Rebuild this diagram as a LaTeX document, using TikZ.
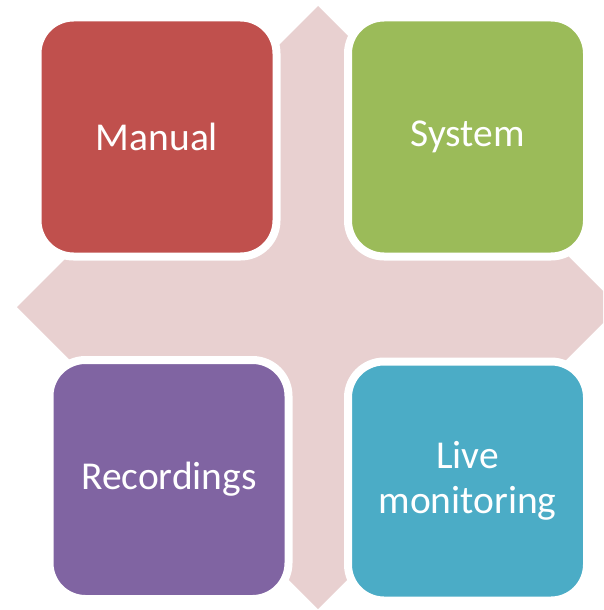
\documentclass[tikz,border=0pt]{standalone}
\usepackage{fontspec}
\setmainfont{Carlito}
\definecolor{crossbg}{HTML}{E8D0D0}
\definecolor{tilered}{HTML}{C0504D}
\definecolor{tilegreen}{HTML}{9BBB59}
\definecolor{tilepurple}{HTML}{8064A2}
\definecolor{tileblue}{HTML}{4BACC6}
\begin{document}
\begin{tikzpicture}[x=1pt,y=-1pt,
  tile/.style={draw=white, line width=8pt, rounded corners=36pt,
    minimum width=239pt, minimum height=239pt, inner sep=0pt,
    text=white, font=\fontsize{39.5}{45}\selectfont, align=center}]
  \useasboundingbox (0,0) rectangle (603,610);
  \clip (0,0) rectangle (603,610);
  % four-way cross behind the tiles
  \fill[crossbg] (318,6) -- (372,60) -- (372,253) -- (565,253) -- (619,307)
    -- (565,361) -- (372,361) -- (372,555) -- (318,609) -- (264,555)
    -- (264,361) -- (71,361) -- (17,307) -- (71,253) -- (264,253)
    -- (264,60) -- cycle;
  % tiles
  \node[tile, fill=tilered]    (manual) at (157,137)   {Manual};
  \node[tile, fill=tilegreen]  (system) at (467.5,137) {System};
  \node[tile, fill=tilepurple] (rec)    at (169,479.5) {Recordings};
  \node[tile, fill=tileblue]   (live)   at (467.5,481) {Live\\monitoring};
\end{tikzpicture}
\end{document}
